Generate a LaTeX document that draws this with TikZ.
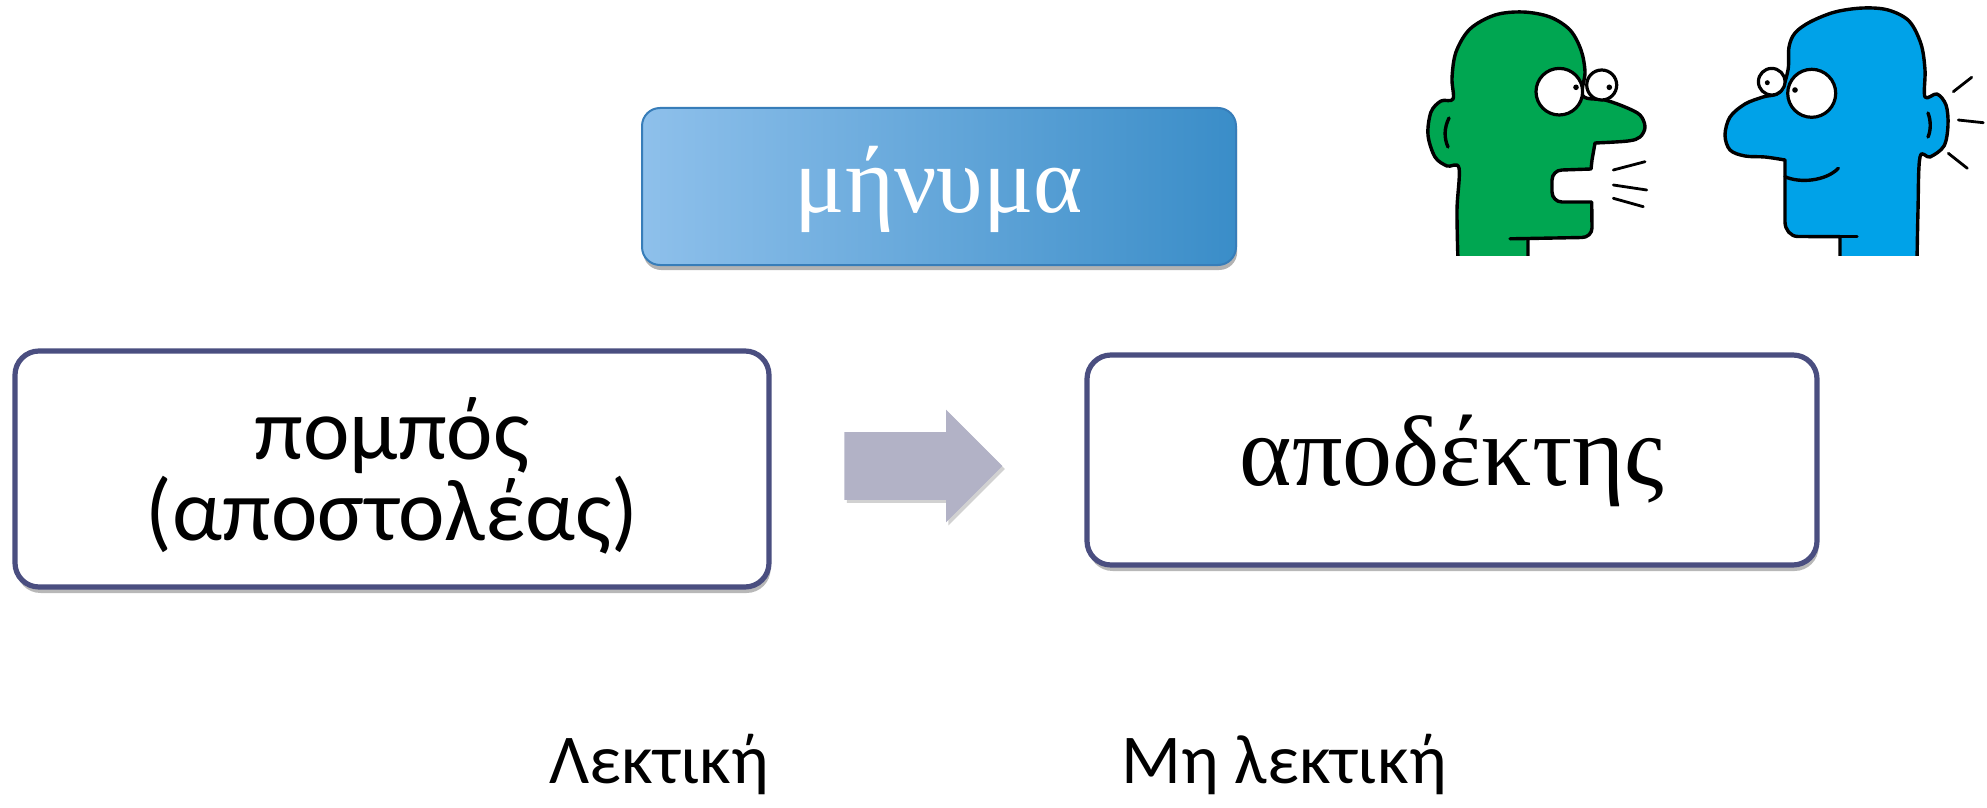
\documentclass[tikz,border=0pt]{standalone}
\usepackage{fontspec}
\setmainfont{Carlito}
\newfontfamily\serifgr{Liberation Serif}
\usetikzlibrary{shapes.arrows,shadows}

\definecolor{boxline}{RGB}{74,78,128}
\definecolor{arrowfill}{RGB}{178,178,198}
\definecolor{msgL}{RGB}{142,192,235}
\definecolor{msgR}{RGB}{58,141,200}
\definecolor{msgline}{RGB}{55,125,185}
\definecolor{headgreen}{RGB}{0,166,81}
\definecolor{headblue}{RGB}{0,162,232}

\begin{document}
\begin{tikzpicture}[x=0.5pt,y=-0.5pt,
  frame/.style={draw=boxline, line width=2.6pt, rounded corners=12pt, fill=white,
    inner sep=0pt, drop shadow={shadow xshift=0.8pt, shadow yshift=-3pt, opacity=0.28, fill=black}},
  msgbox/.style={draw=msgline, line width=1pt, rounded corners=9pt,
    left color=msgL, right color=msgR, text=white, inner sep=0pt,
    font=\serifgr\fontsize{47pt}{50pt}\selectfont,
    drop shadow={shadow xshift=0.6pt, shadow yshift=-2.5pt, opacity=0.3, fill=black}},
  bigarrow/.style={single arrow, fill=arrowfill, draw=none, inner xsep=0pt, inner ysep=16.75pt,
    minimum width=56pt, minimum height=79pt, single arrow head extend=11.25pt,
    single arrow tip angle=90,
    drop shadow={shadow xshift=1.2pt, shadow yshift=-1.5pt, opacity=0.18, fill=black}},
  caption/.style={anchor=base, font=\fontsize{35pt}{40pt}\selectfont, inner sep=0pt},
  outline/.style={draw=black, line width=1.7pt, line join=round, line cap=round},
  eye/.style={fill=white, draw=black, line width=1.6pt},
  pupil/.style={fill=black, draw=none},
  soundline/.style={draw=black, line width=1.4pt, line cap=round}
]
\useasboundingbox (0,0) rectangle (1987,808);

% message
\node[msgbox, minimum width=297pt, minimum height=78.5pt,
      text height=30pt, text depth=3.5pt] (msg) at (939,186.5) {μήνυμα};

% sender and receiver
\node[frame, minimum width=377pt, minimum height=118pt, align=center,
      font=\fontsize{44pt}{38.5pt}\selectfont,
      text height=75pt, text depth=4pt] (src) at (392,469) {πομπός\\(αποστολέας)};
\node[frame, minimum width=365pt, minimum height=105pt,
      font=\serifgr\fontsize{50pt}{55pt}\selectfont,
      text height=30pt, text depth=5pt] (dst) at (1452,460) {αποδέκτης};

% block arrow between them
\node[bigarrow, anchor=tail] (flow) at (844,466) {};

% captions
\node[caption] (verbal) at (659,783) {Λεκτική};
\node[caption] (nonverbal) at (1284,783) {Μη λεκτική};

% two talking heads
\begin{scope}
  \clip (1400,0) rectangle (1987,255);
  % speaker (green)
  \path[fill=headgreen, outline] plot[smooth, tension=0.55] coordinates {
    (1458,262) (1457,210) (1459,168) (1447,166) (1435,157) (1428,135) (1431,112)
    (1441,101) (1453,99) (1452,78) (1456,52) (1470,29) (1495,15) (1523,12)
    (1550,17) (1570,30) (1581,50) (1585,72) (1583,96) (1605,100) (1625,107)
    (1640,115) (1645,127) (1640,137) (1628,141) (1595,143)}
    -- (1592,160) -- (1591,169) -- (1562,170)
    to[out=180,in=90] (1552,180) -- (1552,192) to[out=-90,in=180] (1562,202)
    -- (1591.7,202) -- (1592,228) to[out=-90,in=0] (1582,237.5) -- (1528,238.5)
    -- (1528,262) -- cycle;
  \draw[outline] (1528,238.5) -- (1510,238.8);
  \draw[outline] (1449,118) .. controls (1444,128) and (1444,138) .. (1448,147);
  \path[eye] (1601.7,85) circle[radius=15];
  \path[eye] (1559.3,91.7) circle[radius=23.3];
  \path[pupil] (1576,87.3) circle[radius=2.8];
  \path[pupil] (1609.3,87.3) circle[radius=2.8];
  \draw[soundline] (1613.3,170) -- (1645,161.7);
  \draw[soundline] (1613.3,185) -- (1646.7,190);
  \draw[soundline] (1613.3,198.3) -- (1643.3,206.7);

  % listener (blue)
  \path[fill=headblue, outline] plot[smooth, tension=0.55] coordinates {
    (1917,262) (1918,210) (1920,157) (1930,157) (1944,146) (1948,125) (1946,105)
    (1937,94) (1925,97) (1925,70) (1921,44) (1909,21) (1888,10) (1863,8)
    (1835,12) (1810,22) (1795,33) (1789,47) (1788,70) (1780,92) (1763,97)
    (1745,104) (1730,117) (1725,135) (1730,150) (1745,156) (1765,157) (1785,160)}
    -- (1785,222) to[out=-90,in=180] (1798,236.5) -- (1840,236.7)
    -- (1840,262) -- cycle;
  \draw[outline] (1840,236.7) -- (1857,236.7);
  \draw[outline] (1928,113) .. controls (1931,121) and (1931,130) .. (1928,137);
  \draw[outline] (1785,176.7) .. controls (1800,183.5) and (1826,181) .. (1838.3,168.3);
  \path[eye] (1771.7,81.7) circle[radius=13.3];
  \path[eye] (1811.7,93.3) circle[radius=24];
  \path[pupil] (1795,90) circle[radius=2.8];
  \path[pupil] (1767.3,82.7) circle[radius=2.5];
  \draw[soundline] (1953.3,91.7) -- (1971.7,77.3);
  \draw[soundline] (1958.3,120) -- (1983.3,122.7);
  \draw[soundline] (1948.3,153.3) -- (1967.3,168.3);
\end{scope}
\end{tikzpicture}
\end{document}
